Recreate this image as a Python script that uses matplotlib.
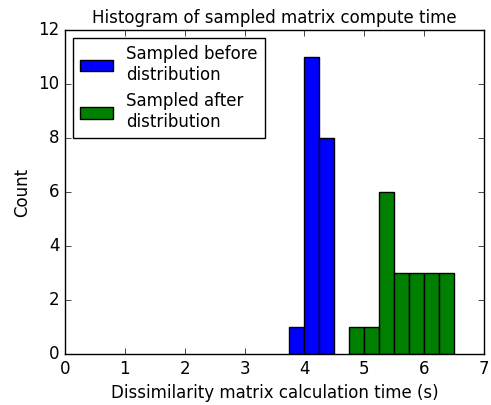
import matplotlib
matplotlib.use("Agg")
import matplotlib.pyplot as plt

# histogram bins (left edges) and counts
before_edges = [3.75, 4.0, 4.25, 4.5]
before_counts = [1, 11, 8]
after_edges = [4.75, 5.0, 5.25, 5.5, 5.75, 6.0, 6.25, 6.5]
after_counts = [1, 1, 6, 3, 3, 3, 3]

plt.style.use("classic")
fig = plt.figure(figsize=(4.91, 4.05), dpi=100, facecolor="white")
ax = fig.add_axes([0.132, 0.126, 0.854, 0.80])

ax.hist(before_edges[:-1], bins=before_edges, weights=before_counts,
        color="blue", label="Sampled before\ndistribution")
ax.hist(after_edges[:-1], bins=after_edges, weights=after_counts,
        color="green", label="Sampled after\ndistribution")

ax.set_xlim(0, 7)
ax.set_ylim(0, 12)
ax.set_xlabel("Dissimilarity matrix calculation time (s)")
ax.set_ylabel("Count")
ax.set_title("Histogram of sampled matrix compute time", fontsize=12)
ax.legend(loc="upper left", fontsize=12)

fig.savefig("out.png", dpi=100, facecolor="white")
